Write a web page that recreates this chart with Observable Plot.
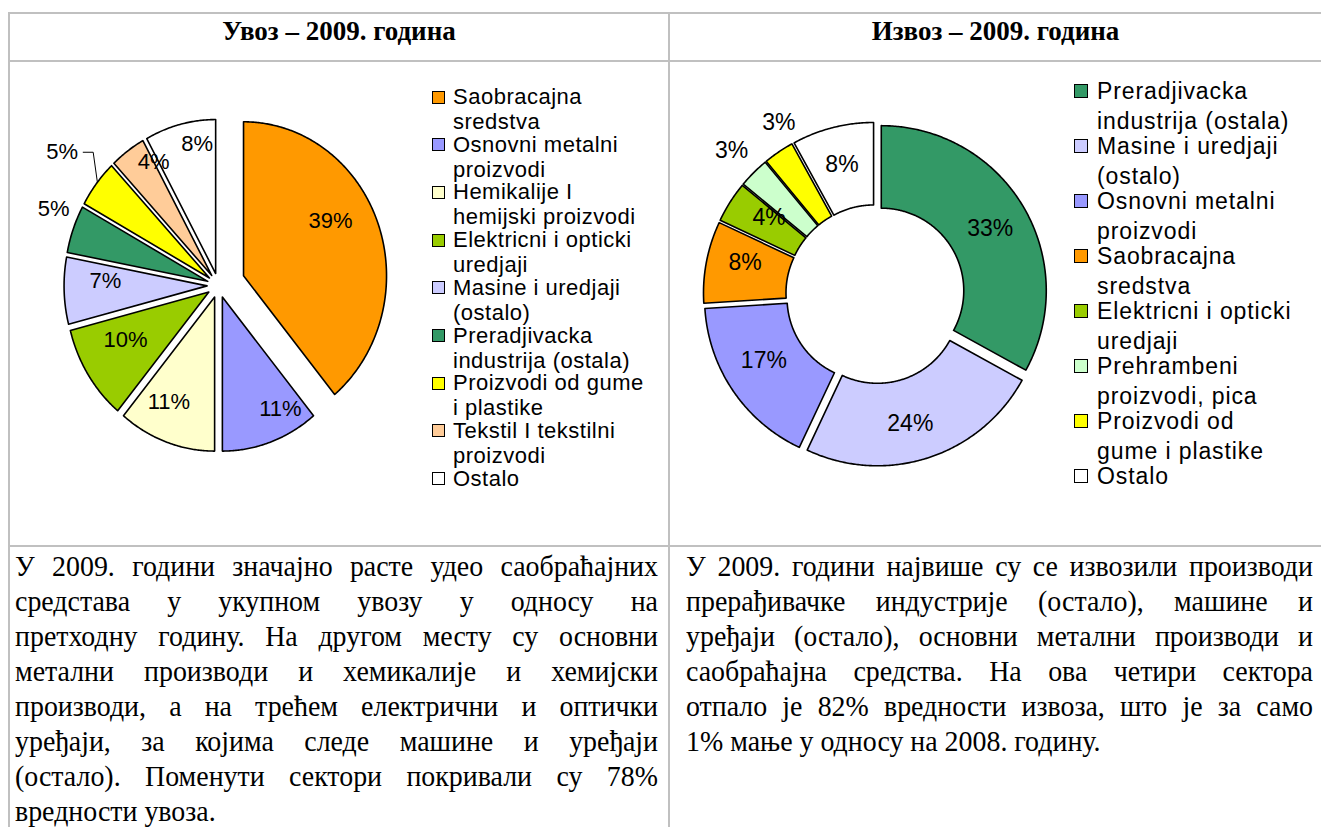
<!DOCTYPE html>
<html>
<head>
<meta charset="utf-8">
<script src="https://cdn.jsdelivr.net/npm/d3@7"></script>
<script src="https://cdn.jsdelivr.net/npm/@observablehq/plot@0.6"></script>
<style>
  html, body { margin: 0; padding: 0; background: #fff; }
  #page { position: relative; width: 1321px; height: 827px; overflow: hidden; background: #fff; }
  .rule { position: absolute; background: #c0c0c0; }
  .head { position: absolute; top: 14px; height: 34px; line-height: 34px; text-align: center;
          font-family: "Liberation Serif", "Times New Roman", serif; font-weight: bold; font-size: 27px; color: #000; }
  .chart { position: absolute; }
  .legend-line { position: absolute; font-family: "Liberation Sans", Arial, sans-serif; color: #000; white-space: pre; }
  .sw { position: absolute; box-sizing: border-box; border: 1px solid #000; }
  .para { position: absolute; font-family: "Liberation Serif", "Times New Roman", serif; font-size: 30px; line-height: 35px; color: #000;
          transform-origin: 0 0; transform: scaleX(0.93); }
  .para div { text-align: justify; text-align-last: justify; white-space: nowrap; }
  .para div.last { text-align: left; text-align-last: left; }
</style>
</head>
<body>
<div id="page"></div>
<script>
// ---------------- DATA ----------------
const importTitle = "Увоз – 2009. година";
const exportTitle = "Извоз – 2009. година";

const importCategories = ["Saobracajna sredstva", "Osnovni metalni proizvodi", "Hemikalije I hemijski proizvodi",
  "Elektricni i opticki uredjaji", "Masine i uredjaji (ostalo)", "Preradjivacka industrija (ostala)",
  "Proizvodi od gume i plastike", "Tekstil I tekstilni proizvodi", "Ostalo"];
const importValues = [39, 11, 11, 10, 7, 5, 5, 4, 8];
const importLegendLabels = ["Saobracajna\nsredstva", "Osnovni metalni\nproizvodi", "Hemikalije I\nhemijski proizvodi",
  "Elektricni i opticki\nuredjaji", "Masine i uredjaji\n(ostalo)", "Preradjivacka\nindustrija (ostala)",
  "Proizvodi od gume\ni plastike", "Tekstil I tekstilni\nproizvodi", "Ostalo"];

const exportCategories = ["Preradjivacka industrija (ostala)", "Masine i uredjaji (ostalo)", "Osnovni metalni proizvodi",
  "Saobracajna sredstva", "Elektricni i opticki uredjaji", "Prehrambeni proizvodi, pica",
  "Proizvodi od gume i plastike", "Ostalo"];
const exportValues = [33, 24, 17, 8, 4, 3, 3, 8];
const exportLegendLabels = ["Preradjivacka\nindustrija (ostala)", "Masine i uredjaji\n(ostalo)", "Osnovni metalni\nproizvodi",
  "Saobracajna\nsredstva", "Elektricni i opticki\nuredjaji", "Prehrambeni\nproizvodi, pica",
  "Proizvodi od\ngume i plastike", "Ostalo"];

const importText = [
  "У 2009. години значајно расте удео саобраћајних",
  "средстава у укупном увозу  у односу на",
  "претходну годину. На другом месту су основни",
  "метални производи и хемикалије и хемијски",
  "производи, а на трећем електрични и оптички",
  "уређаји, за којима следе машине и уређаји",
  "(остало). Поменути сектори  покривали су 78%",
  "вредности увоза."
];
const exportText = [
  "У 2009. години највише су се извозили производи",
  "прерађивачке индустрије (остало), машине и",
  "уређаји (остало), основни метални производи и",
  "саобраћајна средства. На ова четири сектора",
  "отпало је 82% вредности извоза, што је за само",
  "1% мање у односу на 2008. годину."
];

// ---------------- STYLES ----------------
const colorOf = {
  "Saobracajna sredstva": "#FF9900",
  "Osnovni metalni proizvodi": "#9999FF",
  "Hemikalije I hemijski proizvodi": "#FFFFCC",
  "Elektricni i opticki uredjaji": "#99CC00",
  "Masine i uredjaji (ostalo)": "#CCCCFF",
  "Preradjivacka industrija (ostala)": "#339966",
  "Proizvodi od gume i plastike": "#FFFF00",
  "Tekstil I tekstilni proizvodi": "#FFCC99",
  "Prehrambeni proizvodi, pica": "#CCFFCC",
  "Ostalo": "#FFFFFF"
};
// per-slice explosion (radius units) and label placement (radius factor, angle shift in degrees)
const importExplode = [0.186, 0.08, 0.08, 0.08, 0.08, 0.08, 0.08, 0.08, 0.08];
const importLabelK = [0.704, 0.831, 0.754, 0.662, 0.711, 1.177, 1.314, 0.840, 0.853];
const importLabelShift = [-10.5, -9.4, 5.3, 4.1, 4.6, 3.9, 0.6, 7.1, 5.7];
const exportExplode = [0.042, 0.042, 0.042, 0.042, 0.042, 0.042, 0.042, 0.042];
const exportLabelK = [0.76, 0.77, 0.745, 0.77, 0.75, 1.19, 1.15, 0.77];
const exportLabelShift = [1, 3, 3.5, 3, 3.5, 0, 5, 0];

const page = document.getElementById("page");
const rad = (d) => d * Math.PI / 180;

function sectors(values) {
  const total = d3.sum(values);
  let acc = 0;
  return values.map((v, i) => {
    const a0 = acc / total * 360; acc += v;
    const a1 = acc / total * 360;
    return {i, v, a0, a1, mid: (a0 + a1) / 2};
  });
}

function slicePolygon(s, inner, explode) {
  const m = rad(s.mid);
  const ox = explode * Math.sin(m), oy = explode * Math.cos(m);
  const n = Math.max(2, Math.ceil((s.a1 - s.a0) / 0.5));
  const pts = [];
  for (let j = 0; j <= n; j++) {
    const a = rad(s.a0 + (s.a1 - s.a0) * j / n);
    pts.push({x: ox + Math.sin(a), y: oy + Math.cos(a)});
  }
  if (inner > 0) {
    for (let j = n; j >= 0; j--) {
      const a = rad(s.a0 + (s.a1 - s.a0) * j / n);
      pts.push({x: ox + inner * Math.sin(a), y: oy + inner * Math.cos(a)});
    }
  } else {
    pts.push({x: ox, y: oy});
  }
  return pts;
}

function pieChart({categories, values, inner, explode, labelK, labelShift, width, height, cx, cy, Rx, Ry, labelSize, leader}) {
  const secs = sectors(values);
  const marks = [];
  secs.forEach((s) => {
    marks.push(Plot.line(slicePolygon(s, inner, explode[s.i]), {
      x: "x", y: "y", curve: "linear-closed",
      fill: colorOf[categories[s.i]], stroke: "#000", strokeWidth: 1.6, strokeLinejoin: "round"
    }));
  });
  const labels = secs.map((s) => {
    const m = rad(s.mid), a = rad(s.mid + labelShift[s.i]);
    const e = explode[s.i];
    return {
      x: e * Math.sin(m) + labelK[s.i] * Math.sin(a),
      y: e * Math.cos(m) + labelK[s.i] * Math.cos(a),
      text: Math.round(s.v) + "%", i: s.i
    };
  });
  if (leader != null) {
    const s = secs[leader], L = labels[leader];
    const m = rad(s.mid), a = rad(s.mid + labelShift[leader]);
    const e = explode[leader];
    const edge = {x: e * Math.sin(m) + Math.sin(a), y: e * Math.cos(m) + Math.cos(a)};
    marks.push(Plot.line([
      {x: L.x + 21 / Rx, y: L.y},
      {x: L.x + 31 / Rx, y: L.y},
      edge
    ], {x: "x", y: "y", stroke: "#000", strokeWidth: 1}));
  }
  marks.push(Plot.text(labels, {
    x: "x", y: "y", text: "text", fontSize: labelSize, fill: "#000",
    fontFamily: "Liberation Sans, Arial, sans-serif", textAnchor: "middle", lineAnchor: "middle"
  }));
  return Plot.plot({
    width, height, margin: 0,
    x: {domain: [-1, 1], range: [cx - Rx, cx + Rx], axis: null},
    y: {domain: [-1, 1], range: [cy + Ry, cy - Ry], axis: null},
    style: {background: "transparent", overflow: "visible"},
    marks
  });
}

// ---------------- TABLE ----------------
function rule(x, y, w, h) {
  const d = document.createElement("div");
  d.className = "rule";
  Object.assign(d.style, {left: x + "px", top: y + "px", width: w + "px", height: h + "px"});
  page.appendChild(d);
}
rule(8, 12, 1313, 2);
rule(8, 60, 1313, 2);
rule(8, 545, 1313, 2);
rule(8, 12, 2, 815);
rule(668, 12, 2, 815);

function head(text, x, w) {
  const d = document.createElement("div");
  d.className = "head";
  d.textContent = text;
  Object.assign(d.style, {left: x + "px", width: w + "px"});
  page.appendChild(d);
}
head(importTitle, 10, 658);
head(exportTitle, 670, 651);

// ---------------- CHARTS ----------------
const left = pieChart({
  categories: importCategories, values: importValues, inner: 0,
  explode: importExplode, labelK: importLabelK, labelShift: importLabelShift,
  width: 420, height: 483, cx: 208, cy: 223, Rx: 143, Ry: 154, labelSize: 22, leader: 6
});
left.classList.add("chart");
Object.assign(left.style, {left: "10px", top: "62px"});
page.appendChild(left);

const right = pieChart({
  categories: exportCategories, values: exportValues, inner: 0.5,
  explode: exportExplode, labelK: exportLabelK, labelShift: exportLabelShift,
  width: 400, height: 483, cx: 204.8, cy: 231.7, Rx: 165, Ry: 165, labelSize: 23, leader: null
});
right.classList.add("chart");
Object.assign(right.style, {left: "670px", top: "62px"});
page.appendChild(right);

// ---------------- LEGENDS ----------------
function legend(categories, labels, {swX, swSize, textX, y0, step, lineStep, boxH, fontSize, spacing}) {
  categories.forEach((c, i) => {
    const yc = y0 + i * step;
    const sw = document.createElement("div");
    sw.className = "sw";
    Object.assign(sw.style, {left: swX + "px", top: (yc - swSize / 2) + "px", width: swSize + "px", height: swSize + "px", background: colorOf[c]});
    page.appendChild(sw);
    labels[i].split("\n").forEach((ln, j) => {
      const t = document.createElement("div");
      t.className = "legend-line";
      t.textContent = ln;
      const y = yc + j * lineStep;
      Object.assign(t.style, {left: textX + "px", top: (y - boxH / 2) + "px", height: boxH + "px",
        fontSize: fontSize + "px", lineHeight: boxH + "px", letterSpacing: spacing + "px"});
      page.appendChild(t);
    });
  });
}
legend(importCategories, importLegendLabels, {swX: 432, swSize: 13, textX: 453, y0: 97, step: 47.7, lineStep: 25, boxH: 22, fontSize: 22, spacing: 0.5});
legend(exportCategories, exportLegendLabels, {swX: 1074, swSize: 14, textX: 1097, y0: 91, step: 55, lineStep: 30.5, boxH: 23, fontSize: 23, spacing: 0.9});

// ---------------- TEXT ----------------
function para(lines, x, w) {
  const sx = 0.93;
  const p = document.createElement("div");
  p.className = "para";
  Object.assign(p.style, {left: x + "px", top: "548px", width: (w / sx) + "px"});
  lines.forEach((ln, i) => {
    const d = document.createElement("div");
    d.textContent = ln;
    if (i === lines.length - 1) d.className = "last";
    p.appendChild(d);
  });
  page.appendChild(p);
}
para(importText, 15, 643);
para(exportText, 686, 627);
</script>
</body>
</html>
